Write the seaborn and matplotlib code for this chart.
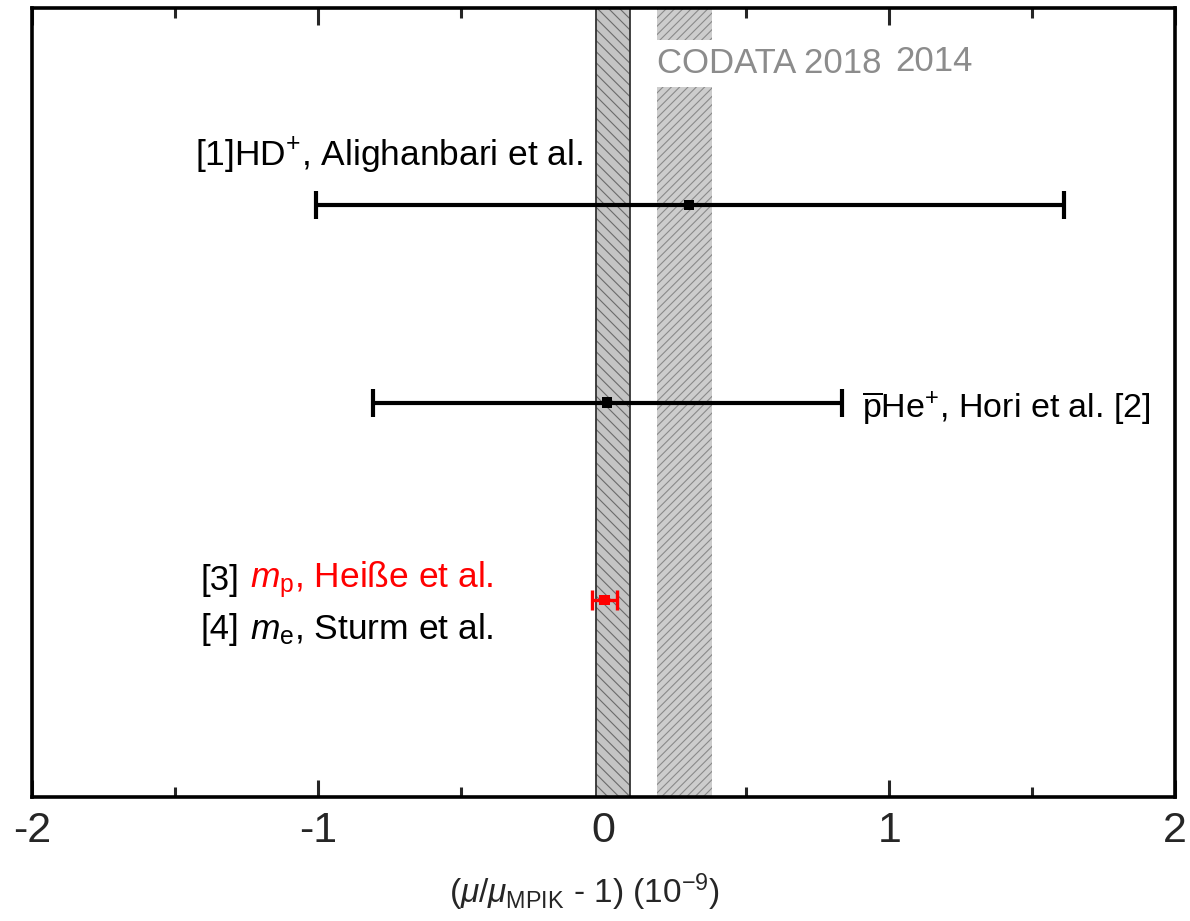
import matplotlib
matplotlib.use("Agg")
import matplotlib.pyplot as plt
import seaborn as sns
import pandas as pd
import numpy as np

# Measurements of the proton-electron mass ratio deviation (units of 1e-9)
labels = ["HD+ Alighanbari", "pbarHe+ Hori", "mp Heisse / me Sturm"]
values = [0.30, 0.012, 0.003]
err_lo = [1.306, 0.819, 0.045]
err_hi = [1.312, 0.823, 0.045]
ypos = [3, 2, 1]
colors = ["black", "black", "red"]

# CODATA bands
codata2018 = (-0.025, 0.093)
codata2014 = (0.188, 0.380)

sns.set_theme(style="ticks")
plt.rcParams["font.family"] = ["Liberation Sans", "DejaVu Sans"]
plt.rcParams["mathtext.fontset"] = "custom"
plt.rcParams["mathtext.rm"] = "Liberation Sans"
plt.rcParams["mathtext.it"] = "Liberation Sans:italic"
plt.rcParams["mathtext.bf"] = "Liberation Sans:bold"
plt.rcParams["hatch.linewidth"] = 0.8

fig = plt.figure(figsize=(11.9, 9.21), dpi=100)
ax = fig.add_axes([0.0269, 0.1346, 0.9605, 0.8567])

# CODATA bands
ax.axvspan(*codata2014, facecolor="#cdcdcd", edgecolor="#8a8a8a", hatch="////",
           linewidth=0, zorder=1)
ax.axvspan(*codata2018, facecolor="#c4c4c4", edgecolor="#6a6a6a", hatch="\\\\\\",
           linewidth=0, zorder=1)
for xv in codata2018:
    ax.axvline(xv, color="#333333", lw=1.3, zorder=2)

df = pd.DataFrame({"label": labels, "value": values, "y": ypos})
for i, row in df.iterrows():
    lw = 3.0 if colors[i] == "black" else 2.4
    cs = 10 if colors[i] == "black" else 7
    ax.errorbar(row["value"], row["y"], xerr=[[err_lo[i]], [err_hi[i]]],
                fmt="none", ecolor=colors[i], elinewidth=lw, capsize=cs,
                capthick=lw, zorder=4)
sns.scatterplot(data=df, x="value", y="y", hue="label",
                palette=dict(zip(labels, colors)), marker="s", s=55,
                edgecolor="none", legend=False, ax=ax, zorder=5)

# Annotations
ax.text(0.186, 3.72, "CODATA 2018", color="#8c8c8c", fontsize=25,
        va="center", ha="left", zorder=3,
        bbox=dict(facecolor="white", edgecolor="none", pad=5))
ax.text(1.02, 3.73, "2014", color="#8c8c8c", fontsize=25, va="center",
        ha="left", zorder=3)
ax.text(-1.43, 3.25, r"[1]HD$^{+}$, Alighanbari et al.", fontsize=25.5,
        va="center", ha="left", color="black")
ax.text(0.905, 1.97, r"$\overline{\mathrm{p}}$He$^{+}$, Hori et al. [2]",
        fontsize=24.5, va="center", ha="left", color="black")
ax.text(-1.41, 1.1, "[3]", fontsize=25, va="center", ha="left", color="black")
ax.text(-1.237, 1.1, r"$m_{\mathrm{p}}$, Heiße et al.", fontsize=25.5,
        va="center", ha="left", color="red")
ax.text(-1.41, 0.85, "[4]", fontsize=25, va="center", ha="left", color="black")
ax.text(-1.237, 0.85, r"$m_{\mathrm{e}}$, Sturm et al.", fontsize=25.5,
        va="center", ha="left", color="black")

ax.set_xlim(-2, 2)
ax.set_ylim(0, 4)
ax.set_xticks([-2, -1, 0, 1, 2])
ax.set_xticklabels(["-2", "-1", "0", "1", "2"])
ax.set_xticks([-1.5, -0.5, 0.5, 1.5], minor=True)
ax.set_yticks([])
ax.tick_params(axis="x", which="major", direction="in", length=12, width=2.2,
               top=True, labelsize=31, pad=10)
ax.tick_params(axis="x", which="minor", direction="in", length=7, width=2.2,
               top=True)
for s in ax.spines.values():
    s.set_linewidth(2.6)
    s.set_color("black")
    s.set_zorder(6)

ax.set_xlabel(r"($\mu$/$\mu_{\mathrm{MPIK}}$ - 1) (10$^{-9}$)", fontsize=24,
              labelpad=14)
ax.xaxis.set_label_coords(0.483, -0.095)
ax.set_ylabel("")

fig.savefig("out.png", dpi=100)
